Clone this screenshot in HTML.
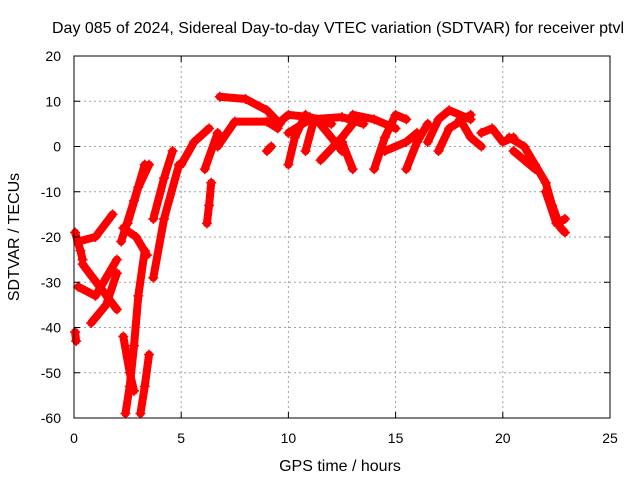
<!DOCTYPE html>
<html><head><meta charset="utf-8"><style>
body{margin:0;background:#fff;}
svg text{font-family:"Liberation Sans",sans-serif;font-size:14px;fill:#000;}
svg text.big{font-size:16px;}
</style></head><body>
<svg id="chart" width="640" height="480" xmlns="http://www.w3.org/2000/svg">
<rect width="640" height="480" fill="#fff"/>
<g id="grid"></g>
<g id="marks"></g>
<rect x="74" y="56" width="536" height="362" fill="none" stroke="#000" stroke-width="1"/>
<g id="ticks"></g>
<text class="big" x="338" y="33" text-anchor="middle" textLength="572" lengthAdjust="spacingAndGlyphs">Day 085 of 2024, Sidereal Day-to-day VTEC variation (SDTVAR) for receiver ptvl</text>
<text class="big" x="340" y="471" text-anchor="middle">GPS time / hours</text>
<text class="big" transform="translate(19,237) rotate(-90)" text-anchor="middle">SDTVAR / TECUs</text>
</svg>
<script>
const xTicks=[0,5,10,15,20,25];
const yTicks=[20,10,0,-10,-20,-30,-40,-50,-60];
const tracks=[
[[0.05,-19],[0.3,-23],[0.4,-25]],
[[0.2,-21],[1,-20],[1.8,-15]],
[[0.4,-26],[1.2,-31],[2,-36]],
[[0.2,-31],[1,-33],[2,-25]],
[[0.8,-39],[1.5,-35],[2,-28]],
[[0.05,-41],[0.1,-43]],
[[2.2,-21],[2.8,-12],[3.3,-4]],
[[2.5,-17],[3,-9],[3.5,-4]],
[[2.3,-18],[2.9,-20],[3.4,-24]],
[[2.3,-42],[2.6,-50],[2.8,-54]],
[[3.3,-23],[3,-33],[2.8,-44],[2.6,-53],[2.4,-59]],
[[3.5,-46],[3.3,-53],[3.1,-59]],
[[3.7,-16],[4.2,-7],[4.6,-1]],
[[3.7,-29],[4.2,-16],[4.9,-4]],
[[5,-4],[5.6,1],[6.3,4]],
[[6.1,-5],[6.7,3]],
[[6.4,-8],[6.3,-13],[6.2,-17]],
[[6.7,0],[7.5,5.5],[9,5.5],[9.5,4]],
[[6.8,11],[8,10.5],[9,8],[9.6,5]],
[[9.5,5],[10,7],[11,6.5],[12,5]],
[[10,3],[11,6],[12.5,6.5],[13.5,5]],
[[10,-4],[10.3,2],[10.8,7]],
[[10.8,-1],[11.2,6]],
[[11.3,6],[12,2],[12.5,-1]],
[[11.5,-3],[12.5,2],[13,5]],
[[12.5,1],[13,-5]],
[[13,7],[14,6],[15,4]],
[[14,-5],[14.5,2],[15,7],[15.5,6]],
[[15.5,-5],[16,1],[16.5,5]],
[[14.5,-1],[15.5,1],[16,3]],
[[16.5,1],[17,6],[17.5,8],[18.5,6]],
[[17,-1],[17.5,4],[18.5,7]],
[[18,6],[18.5,2],[19,0]],
[[19,3],[19.5,4],[20,1],[20.5,2]],
[[20.3,2],[21,0],[21.5,-4],[22,-8]],
[[20.5,-1],[21.5,-5]],
[[22,-8],[22.3,-13],[22.7,-18],[22.9,-19]],
[[22,-10],[22.5,-17],[22.9,-16]],
[[9,-1],[9.2,0]]
];
const NS="http://www.w3.org/2000/svg";
const X=t=>74+t*536/25, Y=v=>56+(20-v)*362/80;
const grid=document.getElementById('grid'),ticks=document.getElementById('ticks'),marks=document.getElementById('marks');
function mk(tag,attrs,parent){const e=document.createElementNS(NS,tag);for(const k in attrs)e.setAttribute(k,attrs[k]);parent.appendChild(e);return e;}
xTicks.forEach(t=>{
 const g=mk('line',{x1:X(t),x2:X(t),y1:56,y2:418,stroke:'#a0a0a0','stroke-dasharray':'2,3'},grid);
 
 
 mk('line',{x1:X(t),x2:X(t),y1:418,y2:412,stroke:'#000'},ticks);
 mk('line',{x1:X(t),x2:X(t),y1:56,y2:62,stroke:'#000'},ticks);
 const tx=mk('text',{x:X(t),y:443,'text-anchor':'middle'},ticks);tx.textContent=t;
 
 
});
yTicks.forEach(v=>{
 const g=mk('line',{x1:74,x2:610,y1:Y(v),y2:Y(v),stroke:'#a0a0a0','stroke-dasharray':'2,3'},grid);
 
 
 mk('line',{x1:74,x2:80,y1:Y(v),y2:Y(v),stroke:'#000'},ticks);
 mk('line',{x1:604,x2:610,y1:Y(v),y2:Y(v),stroke:'#000'},ticks);
 const tx=mk('text',{x:61,y:Y(v)+5,'text-anchor':'end'},ticks);tx.textContent=v;
 
 
});
tracks.forEach(tr=>{
 const p=mk('polyline',{points:tr.map(d=>X(d[0])+','+Y(d[1])).join(' '),fill:'none',stroke:'#ff0000','stroke-width':8,'stroke-linejoin':'round','stroke-linecap':'round'},marks);
 
 
 tr.forEach(d=>{
  const m=mk('path',{d:`M${X(d[0])-5},${Y(d[1])}h10M${X(d[0])},${Y(d[1])-5}v10`,stroke:'#ff0000','stroke-width':1.5},marks);
  
  
 });
});
</script>
</body></html>
